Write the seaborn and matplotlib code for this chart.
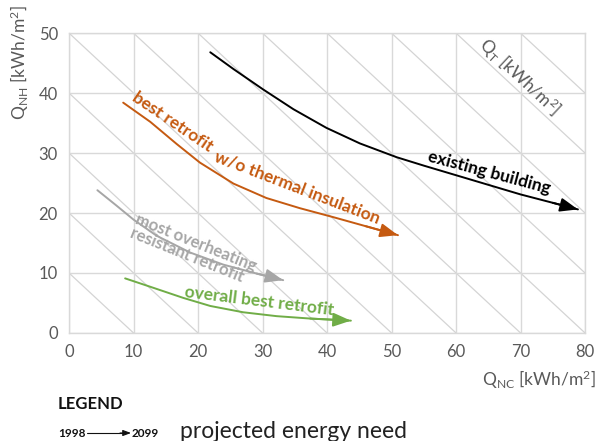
import pandas as pd
import matplotlib.pyplot as plt
import seaborn as sns

# --- data (Q_NC, Q_NH in kWh/m2) ---
existing_x = [21.9, 25.5, 30.1, 34.8, 39.9, 45.1, 50.8, 55, 60, 65, 70, 75, 78.9]
existing_y = [46.8, 44.0, 40.6, 37.3, 34.2, 31.6, 29.3, 27.9, 26.3, 24.7, 23.1, 21.7, 20.6]

no_insul_x = [8.4, 12.6, 16.7, 20.3, 25.5, 30.6, 35.8, 41, 46, 51]
no_insul_y = [38.4, 35.2, 31.5, 28.4, 24.9, 22.5, 20.8, 19.3, 17.8, 16.3]

overheat_x = [4.4, 7.4, 10.0, 13.6, 18.8, 23.9, 29.1, 33.2]
overheat_y = [23.8, 21.2, 18.9, 16.2, 13.4, 11.4, 9.9, 8.8]

best_x = [8.7, 12.6, 17.7, 21.9, 27.0, 32.2, 37.4, 43.7]
best_y = [9.1, 7.7, 5.85, 4.5, 3.45, 2.8, 2.4, 2.05]

qt_levels = [10, 20, 30, 40, 50, 60, 70, 80, 90, 100, 110, 120, 130]
x_ticks = [0, 10, 20, 30, 40, 50, 60, 70, 80]
y_ticks = [0, 10, 20, 30, 40, 50]

BLACK = '#000000'
ORANGE = '#c55a11'
GREY = '#a6a6a6'
GREEN = '#70ad47'
TXT = '#595959'

curves = [
    (existing_x, existing_y, BLACK),
    (no_insul_x, no_insul_y, ORANGE),
    (overheat_x, overheat_y, GREY),
    (best_x, best_y, GREEN),
]

sns.set_theme(style="whitegrid")
plt.rcParams['font.family'] = ['Lato', 'DejaVu Sans']
plt.rcParams['mathtext.fontset'] = 'custom'
plt.rcParams['mathtext.rm'] = 'Lato'
plt.rcParams['mathtext.default'] = 'regular'

fig = plt.figure(figsize=(5.98, 4.41), dpi=100)
ax = fig.add_axes([0.1154, 0.245, 0.8629, 0.680])

# constant Q_T diagonals
for q in qt_levels:
    ax.axline((0, q), slope=-1, color='#d4d4d4', lw=0.9, zorder=0)

for xs, ys, c in curves:
    df = pd.DataFrame({'x': xs, 'y': ys})
    sns.lineplot(data=df, x='x', y='y', sort=False, color=c, lw=1.4, ax=ax,
                 zorder=3, solid_joinstyle='round')
    ax.annotate('', xy=(xs[-1], ys[-1]), xytext=(xs[-2], ys[-2]),
                arrowprops=dict(arrowstyle='-|>,head_length=0.9,head_width=0.35',
                                color=c, lw=1.4, shrinkA=0, shrinkB=0), zorder=4)

ax.set_xlim(0, 80)
ax.set_ylim(0, 50)
ax.set_xticks(x_ticks)
ax.set_yticks(y_ticks)
ax.grid(True, color='#d9d9d9', lw=1.0)
for s in ax.spines.values():
    s.set_color('#d9d9d9')
    s.set_linewidth(1.0)
ax.tick_params(axis='both', length=0, labelsize=12, labelcolor=TXT)
ax.tick_params(axis='x', pad=8)
ax.tick_params(axis='y', pad=8)

ax.set_xlabel('Q$_{NC}$ [kWh/m$^{2}$]', fontsize=12.5, color=TXT, ha='right')
ax.xaxis.set_label_coords(1.02, -0.12)
ax.set_ylabel('Q$_{NH}$ [kWh/m$^{2}$]', fontsize=12.5, color=TXT)
ax.yaxis.set_label_coords(-0.074, 0.9)

ax.text(69.9, 42.7, 'Q$_{T}$ [kWh/m$^{2}$]', rotation=-43, fontsize=12.5,
        color=TXT, ha='center', va='center')

# curve labels (the orange one bends with its curve, so two pieces)
ax.text(65.1, 26.8, 'existing building', rotation=-15, fontsize=12.5,
        fontweight='bold', color=BLACK, ha='center', va='center')
ax.text(16.0, 35.1, 'best retrofit', rotation=-34,
        fontsize=12.5, fontweight='bold', color=ORANGE, ha='center', va='center')
ax.text(35.3, 24.3, 'w/o thermal insulation', rotation=-21,
        fontsize=12.5, fontweight='bold', color=ORANGE, ha='center', va='center')
ax.text(19.3, 13.9, 'most overheating\nresistant retrofit', rotation=-22,
        fontsize=12, fontweight='bold', color=GREY, ha='center', va='center',
        multialignment='left', linespacing=0.85)
ax.text(29.5, 5.3, 'overall best retrofit', rotation=-7, fontsize=12.5,
        fontweight='bold', color=GREEN, ha='center', va='center')

# legend block under the chart
fig.text(58 / 598, 1 - 409 / 441, 'LEGEND', fontsize=12, fontweight='bold',
         color='#111111', ha='left', va='baseline')
fig.text(58 / 598, 1 - 437 / 441, '1998', fontsize=8.5, fontweight='bold',
         color='#111111', ha='left', va='baseline')
fig.text(132 / 598, 1 - 437 / 441, '2099', fontsize=8.5, fontweight='bold',
         color='#111111', ha='left', va='baseline')
fig.add_artist(plt.Line2D([87 / 598, 124 / 598], [1 - 433 / 441] * 2,
                          color='#111111', lw=0.8))
ax.annotate('', xy=(131 / 598, 1 - 433 / 441), xytext=(120 / 598, 1 - 433 / 441),
            xycoords='figure fraction', textcoords='figure fraction',
            arrowprops=dict(arrowstyle='-|>,head_length=0.4,head_width=0.15',
                            color='#111111', lw=0.8, shrinkA=0, shrinkB=0),
            annotation_clip=False)
fig.text(180 / 598, 1 - 438 / 441, 'projected energy need', fontsize=16.5,
         color='#222222', ha='left', va='baseline')

fig.savefig('out.png', dpi=100)
